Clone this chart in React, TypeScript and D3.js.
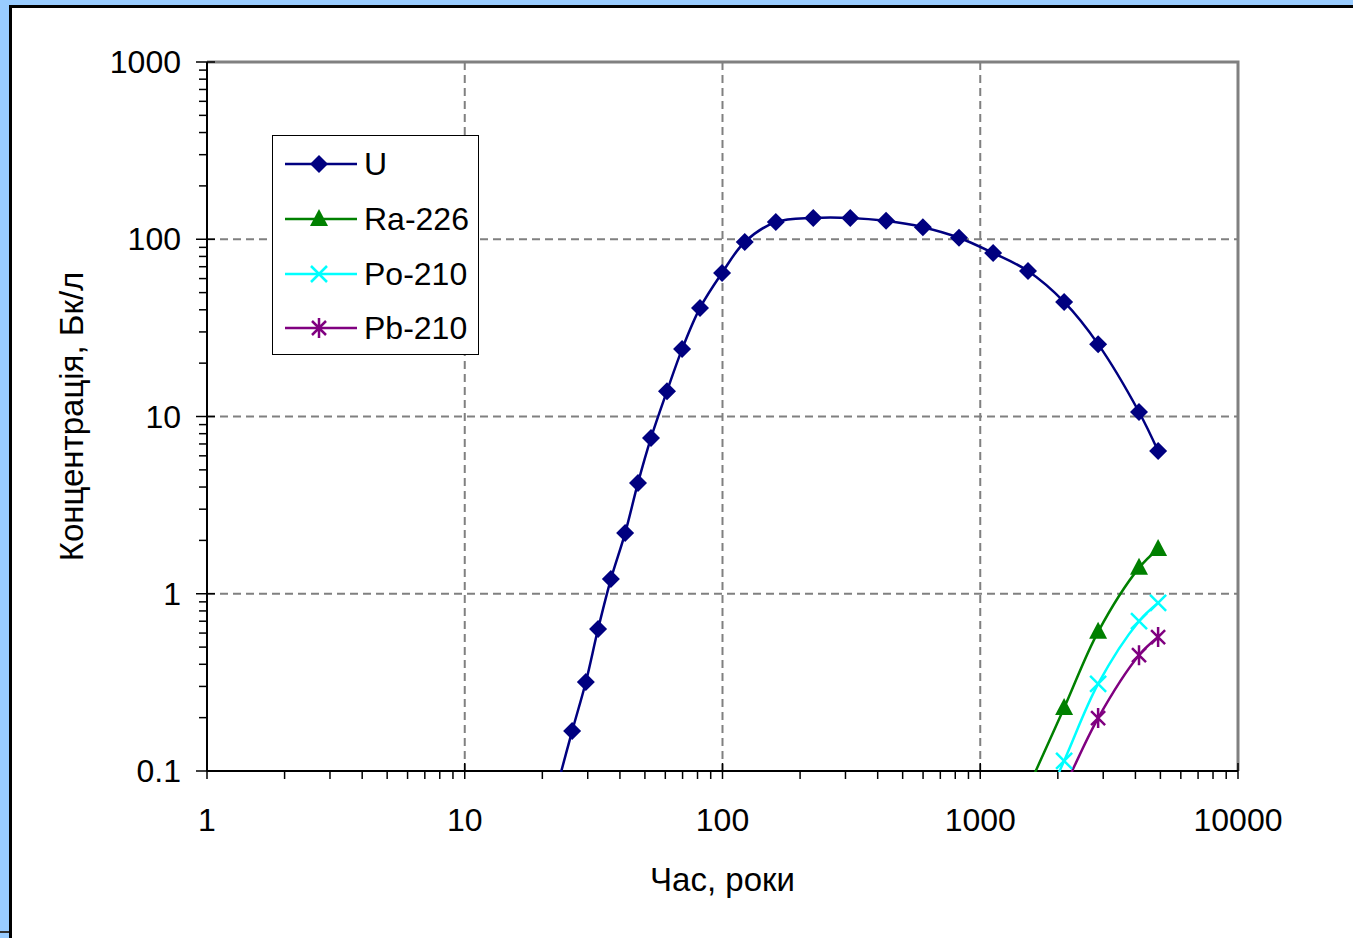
import React, { useEffect, useRef } from 'react';
import * as d3 from 'd3';

// time axis (years) shared by all series
const times = [23, 26.1, 29.5, 32.9, 36.9, 41.9, 47, 52.8, 60.9, 69.7, 81.8, 99.6, 122, 161, 225, 313, 431, 599, 827, 1122, 1532, 2115, 2866, 4130, 4898];
const uValues = [0.085, 0.168, 0.318, 0.632, 1.21, 2.2, 4.22, 7.57, 13.9, 24, 41, 64.6, 96.5, 125, 132, 132, 127, 117, 102, 83.6, 66.2, 44.3, 25.6, 10.6, 6.38];

const lateTimes = [1532, 2115, 2866, 4130, 4898];
const raValues = [0.08, 0.227, 0.61, 1.4, 1.79];
const poValues = [0.04, 0.114, 0.31, 0.7, 0.887];
const pbValues = [0.03, 0.08, 0.199, 0.45, 0.57];

const xTicks = [1, 10, 100, 1000, 10000];
const yTicks = [0.1, 1, 10, 100, 1000];
const xTickLabels = ['1', '10', '100', '1000', '10000'];
const yTickLabels = ['0.1', '1', '10', '100', '1000'];

const seriesNames = ['U', 'Ra-226', 'Po-210', 'Pb-210'];
const seriesColors = ['#000080', '#008000', '#00FFFF', '#800080'];
const seriesMarkers = ['diamond', 'triangle', 'cross', 'star'];

const W = 1353;
const H = 938;
const FONT = '"Liberation Sans", Arial, sans-serif';

export default function App() {
  const svgRef = useRef<SVGSVGElement>(null);

  useEffect(() => {
    if (!svgRef.current) return;
    const svg = d3.select(svgRef.current);
    svg.selectAll('*').remove();

    // frame
    svg.append('rect').attr('width', W).attr('height', H).attr('fill', '#99CCFF');
    svg.append('rect').attr('x', 10.5).attr('y', 6.5).attr('width', W).attr('height', H)
      .attr('fill', '#fff').attr('stroke', '#000').attr('stroke-width', 3);
    svg.append('line').attr('x1', 0).attr('x2', 9).attr('y1', 932).attr('y2', 932)
      .attr('stroke', '#333').attr('stroke-width', 2);

    const left = 207, right = 1238, top = 62, bottom = 771;
    const x = d3.scaleLog().domain([1, 10000]).range([left, right]);
    const y = d3.scaleLog().domain([0.1, 1000]).range([bottom, top]);

    const defs = svg.append('defs');
    defs.append('clipPath').attr('id', 'plotClip')
      .append('rect').attr('x', left).attr('y', top).attr('width', right - left).attr('height', bottom - top + 1);

    // grid
    const g = svg.append('g');
    [10, 100, 1000].forEach((v) => {
      g.append('line').attr('x1', x(v)).attr('x2', x(v)).attr('y1', top).attr('y2', bottom)
        .attr('stroke', '#808080').attr('stroke-width', 2).attr('stroke-dasharray', '8,5');
    });
    [1, 10, 100].forEach((v) => {
      g.append('line').attr('x1', left).attr('x2', right).attr('y1', y(v)).attr('y2', y(v))
        .attr('stroke', '#808080').attr('stroke-width', 2).attr('stroke-dasharray', '8,5');
    });

    // top/right border
    g.append('path').attr('d', `M${left},${top}H${right}V${bottom}`)
      .attr('fill', 'none').attr('stroke', '#808080').attr('stroke-width', 3);

    // minor ticks
    const minorX: number[] = [];
    const minorY: number[] = [];
    for (let e = 0; e < 4; e++) for (let m = 2; m <= 9; m++) minorX.push(m * Math.pow(10, e));
    for (let e = -1; e < 3; e++) for (let m = 2; m <= 9; m++) minorY.push(m * Math.pow(10, e));
    minorX.forEach((v) => {
      g.append('line').attr('x1', x(v)).attr('x2', x(v)).attr('y1', bottom).attr('y2', bottom + 8)
        .attr('stroke', '#000').attr('stroke-width', 1.5);
    });
    minorY.forEach((v) => {
      g.append('line').attr('x1', left - 8).attr('x2', left).attr('y1', y(v)).attr('y2', y(v))
        .attr('stroke', '#000').attr('stroke-width', 1.5);
    });
    xTicks.forEach((v) => {
      g.append('line').attr('x1', x(v)).attr('x2', x(v)).attr('y1', bottom - 8).attr('y2', bottom + 8)
        .attr('stroke', '#000').attr('stroke-width', 1.5);
    });
    yTicks.forEach((v) => {
      g.append('line').attr('x1', left - 11).attr('x2', left + 8).attr('y1', y(v)).attr('y2', y(v))
        .attr('stroke', '#000').attr('stroke-width', 1.5);
    });

    // axes
    g.append('line').attr('x1', left).attr('x2', right).attr('y1', bottom).attr('y2', bottom)
      .attr('stroke', '#000').attr('stroke-width', 2);
    g.append('line').attr('x1', left).attr('x2', left).attr('y1', top).attr('y2', bottom)
      .attr('stroke', '#000').attr('stroke-width', 2);

    // tick labels
    xTicks.forEach((v, i) => {
      g.append('text').attr('x', x(v)).attr('y', bottom + 60).attr('text-anchor', 'middle')
        .attr('font-family', FONT).attr('font-size', 32).attr('fill', '#000').text(xTickLabels[i]);
    });
    yTicks.forEach((v, i) => {
      g.append('text').attr('x', 181).attr('y', y(v) + 11).attr('text-anchor', 'end')
        .attr('font-family', FONT).attr('font-size', 32).attr('fill', '#000').text(yTickLabels[i]);
    });

    // axis titles
    g.append('text').attr('x', (left + right) / 2).attr('y', 891).attr('text-anchor', 'middle')
      .attr('font-family', FONT).attr('font-size', 33).attr('fill', '#000').text('Час, роки');
    g.append('text').attr('transform', `translate(83, ${(top + bottom) / 2}) rotate(-90)`)
      .attr('text-anchor', 'middle')
      .attr('font-family', FONT).attr('font-size', 33).attr('fill', '#000').text('Концентрація, Бк/л');

    // markers
    const drawMarker = (sel: d3.Selection<SVGGElement, unknown, null, undefined>, type: string, cx: number, cy: number, color: string) => {
      if (type === 'diamond') {
        sel.append('path').attr('d', `M${cx},${cy - 9}L${cx + 9},${cy}L${cx},${cy + 9}L${cx - 9},${cy}Z`).attr('fill', color);
      } else if (type === 'triangle') {
        sel.append('path').attr('d', `M${cx},${cy - 10}L${cx + 9},${cy + 7}L${cx - 9},${cy + 7}Z`).attr('fill', color);
      } else if (type === 'cross') {
        sel.append('path').attr('d', `M${cx - 8},${cy - 8}L${cx + 8},${cy + 8}M${cx + 8},${cy - 8}L${cx - 8},${cy + 8}`)
          .attr('stroke', color).attr('stroke-width', 2.5).attr('fill', 'none');
      } else {
        sel.append('path').attr('d', `M${cx - 7},${cy - 7}L${cx + 7},${cy + 7}M${cx + 7},${cy - 7}L${cx - 7},${cy + 7}M${cx},${cy - 10}L${cx},${cy + 10}`)
          .attr('stroke', color).attr('stroke-width', 2.5).attr('fill', 'none');
      }
    };

    const allSeries = [
      { xs: times, ys: uValues },
      { xs: lateTimes, ys: raValues },
      { xs: lateTimes, ys: poValues },
      { xs: lateTimes, ys: pbValues },
    ];

    const line = d3.line<[number, number]>()
      .x((d) => x(d[0]))
      .y((d) => y(d[1]))
      .curve(d3.curveCatmullRom.alpha(0.5));

    const plot = svg.append('g').attr('clip-path', 'url(#plotClip)');
    // draw in reverse order so U lies on top
    [3, 2, 1, 0].forEach((si) => {
      const s = allSeries[si];
      const pts: [number, number][] = s.xs.map((t, i) => [t, s.ys[i]]);
      plot.append('path').attr('d', line(pts) || '').attr('fill', 'none')
        .attr('stroke', seriesColors[si]).attr('stroke-width', 2.5);
      pts.forEach((p) => {
        if (p[1] >= 0.1) drawMarker(plot, seriesMarkers[si], x(p[0]), y(p[1]), seriesColors[si]);
      });
    });

    // legend
    const lg = svg.append('g');
    lg.append('rect').attr('x', 272.5).attr('y', 135.5).attr('width', 206).attr('height', 219)
      .attr('fill', '#fff').attr('stroke', '#000').attr('stroke-width', 1);
    const rowY = [164, 219, 274, 328];
    seriesNames.forEach((name, i) => {
      lg.append('line').attr('x1', 285).attr('x2', 357).attr('y1', rowY[i]).attr('y2', rowY[i])
        .attr('stroke', seriesColors[i]).attr('stroke-width', 2.5);
      drawMarker(lg, seriesMarkers[i], 319, rowY[i], seriesColors[i]);
      lg.append('text').attr('x', 364).attr('y', rowY[i] + 11)
        .attr('font-family', FONT).attr('font-size', 32).attr('fill', '#000').text(name);
    });
  }, []);

  return (
    <svg ref={svgRef} width={W} height={H}
      style={{ position: 'absolute', left: 0, top: 0, display: 'block' }} />
  );
}
